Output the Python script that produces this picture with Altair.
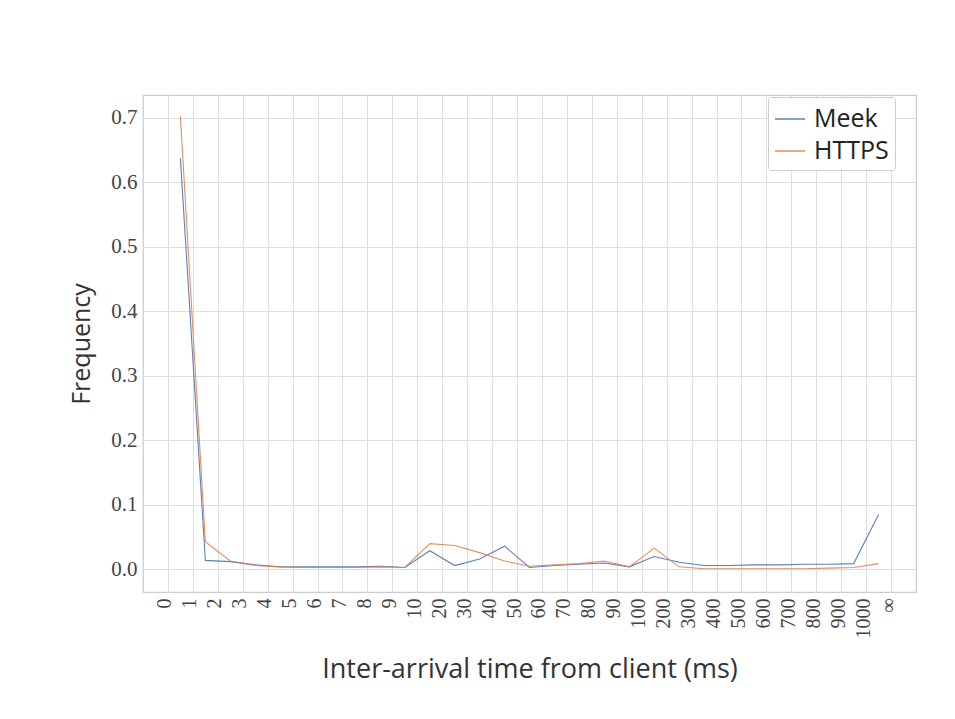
import altair as alt
import pandas as pd

tick_labels = ["0", "1", "2", "3", "4", "5", "6", "7", "8", "9",
               "10", "20", "30", "40", "50", "60", "70", "80", "90",
               "100", "200", "300", "400", "500", "600", "700", "800", "900",
               "1000", "\u221e"]

series_names = ["Meek", "HTTPS"]

meek = [0.637, 0.014, 0.012, 0.007, 0.004, 0.004, 0.004, 0.004, 0.005, 0.003,
        0.029, 0.006, 0.016, 0.036, 0.003, 0.006, 0.008, 0.010, 0.004,
        0.020, 0.011, 0.006, 0.006, 0.007, 0.007, 0.008, 0.008, 0.009,
        0.085]
https = [0.702, 0.043, 0.013, 0.006, 0.004, 0.003, 0.003, 0.003, 0.004, 0.003,
         0.040, 0.037, 0.026, 0.013, 0.005, 0.007, 0.009, 0.013, 0.004,
         0.033, 0.004, 0.001, 0.001, 0.001, 0.001, 0.001, 0.002, 0.003,
         0.009]

y_ticks = [0.0, 0.1, 0.2, 0.3, 0.4, 0.5, 0.6, 0.7]

rows = []
for i, (m, h) in enumerate(zip(meek, https)):
    rows.append({"bin": i + 0.5, "series": "Meek", "freq": m})
    rows.append({"bin": i + 0.5, "series": "HTTPS", "freq": h})
df = pd.DataFrame(rows)

label_js = "[" + ",".join("'%s'" % t for t in tick_labels) + "][datum.value]"

chart = alt.Chart(df).mark_line(strokeWidth=1.1, opacity=0.9).encode(
    x=alt.X(
        "bin:Q",
        scale=alt.Scale(domain=[-1, 30], nice=False, zero=False),
        axis=alt.Axis(
            values=list(range(len(tick_labels))),
            labelExpr=label_js,
            labelAngle=270,
            labelAlign="right",
            labelBaseline="middle",
            labelOffset=-3,
            labelFont="Liberation Serif",
            labelFontSize=20,
            labelColor="#444444",
            labelPadding=6,
            labelOverlap=False,
            title="Inter-arrival time from client (ms)",
            titleFont="Open Sans",
            titleFontSize=27,
            titleFontWeight="normal",
            titleColor="#333333",
            titlePadding=18,
        ),
    ),
    y=alt.Y(
        "freq:Q",
        scale=alt.Scale(domain=[-0.035, 0.735], nice=False, zero=False),
        axis=alt.Axis(
            values=y_ticks,
            format=".1f",
            labelFont="Liberation Serif",
            labelFontSize=21,
            labelColor="#444444",
            labelPadding=6,
            title="Frequency",
            titleFont="Open Sans",
            titleFontSize=25,
            titleFontWeight="normal",
            titleColor="#333333",
            titlePadding=16,
        ),
    ),
    color=alt.Color(
        "series:N",
        scale=alt.Scale(domain=series_names, range=["#4C72B0", "#DD8452"]),
        legend=alt.Legend(
            title=None,
            orient="none",
            legendX=625,
            legendY=2,
            fillColor="white",
            strokeColor="#cccccc",
            cornerRadius=3,
            padding=6,
            symbolType="stroke",
            symbolSize=900,
            symbolStrokeWidth=1.5,
            labelFont="Open Sans",
            labelFontSize=25,
            labelColor="#222222",
            labelOffset=8,
            rowPadding=3,
        ),
    ),
).properties(
    width=773,
    height=497,
    autosize=alt.AutoSizeParams(type="none"),
    padding={"left": 135, "top": 87, "right": 30, "bottom": 110},
).configure_view(
    stroke="#cccccc",
    strokeWidth=1.25,
).configure_axis(
    domain=False,
    ticks=False,
    grid=True,
    gridColor="#dddddd",
    gridWidth=1,
)

chart.save("out.html", embed_options={"renderer": "svg", "actions": False})
